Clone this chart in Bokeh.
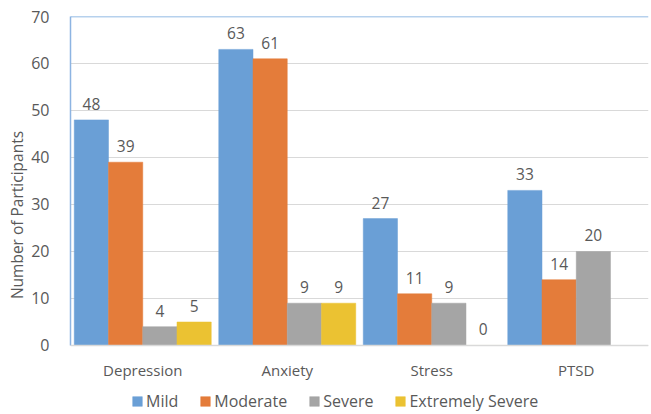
from bokeh.plotting import figure
from bokeh.models import ColumnDataSource, FactorRange, Legend, LegendItem, Span, Range1d, FixedTicker
from bokeh.transform import dodge
from bokeh.embed import file_html
from bokeh.resources import INLINE
from bokeh.core.properties import value

categories = ["Depression", "Anxiety", "Stress", "PTSD"]
series = ["Mild", "Moderate", "Severe", "Extremely Severe"]
mild = [48, 63, 27, 33]
moderate = [39, 61, 11, 14]
severe = [4, 9, 9, 20]
extremely_severe = [5, 9, 0, None]
y_ticks = [0, 10, 20, 30, 40, 50, 60, 70]
y_title = "Number of Participants"

colors = ["#6A9FD6", "#E47C3A", "#A5A5A5", "#EBC232"]
FONT = "Open Sans"
TXT = "#595959"

# frame extends below zero to leave room for category labels and legend
y_low = -14.47
p = figure(width=651, height=413, x_range=FactorRange(*categories),
           y_range=Range1d(y_low, y_ticks[-1]), output_backend="svg",
           toolbar_location=None, min_border_left=70, min_border_top=16,
           min_border_right=3, min_border_bottom=0)
p.outline_line_color = None
p.background_fill_color = "white"
p.border_fill_color = "white"

bw = 0.237
offsets = [-1.5 * bw, -0.5 * bw, 0.5 * bw, 1.5 * bw]
items = []
for name, vals, col, off in zip(series, [mild, moderate, severe, extremely_severe], colors, offsets):
    xs = [c for c, v in zip(categories, vals) if v is not None]
    ys = [v for v in vals if v is not None]
    src = ColumnDataSource(dict(cat=xs, val=ys, lab=[str(v) for v in ys]))
    r = p.vbar(x=dodge("cat", off, range=p.x_range), top="val", bottom=0, width=bw, source=src,
               fill_color=col, line_color=col, line_width=0.5)
    p.text(x=dodge("cat", off, range=p.x_range), y="val", text="lab", source=src,
           text_align="center", text_baseline="bottom", y_offset=-10,
           text_font=value(FONT), text_font_size="15.5px", text_color=TXT)
    items.append(LegendItem(label=name, renderers=[r]))

# category labels under the baseline
cat_src = ColumnDataSource(dict(cat=categories, y=[y_ticks[0]] * len(categories)))
p.text(x="cat", y="y", text="cat", source=cat_src, text_align="center",
       text_baseline="middle", y_offset=25, text_font=value(FONT),
       text_font_size="15px", text_color=TXT)

p.add_layout(Span(location=y_ticks[-1], dimension="width", line_color="#6FA3DC", line_width=1.5))
p.add_layout(Span(location=y_ticks[0], dimension="width", line_color="#D9D9D9", line_width=1.5))

p.xaxis.visible = False

p.yaxis.ticker = FixedTicker(ticks=y_ticks)
p.yaxis.bounds = (y_ticks[0], y_ticks[-1])
p.yaxis.axis_label = y_title
p.yaxis.axis_label_text_font = FONT
p.yaxis.axis_label_text_font_style = "normal"
p.yaxis.axis_label_text_font_size = "15.5px"
p.yaxis.axis_label_text_color = TXT
p.yaxis.axis_label_standoff = 0
p.yaxis.major_label_text_font = FONT
p.yaxis.major_label_text_font_size = "16px"
p.yaxis.major_label_text_color = TXT
p.yaxis.major_label_standoff = 15
p.yaxis.major_tick_line_color = None
p.yaxis.minor_tick_line_color = None
p.yaxis.axis_line_color = "#8DB4E2"
p.yaxis.axis_line_width = 1.5

p.xgrid.grid_line_color = None
p.ygrid.grid_line_color = "#D9D9D9"
p.ygrid.grid_line_width = 1.2

legend = Legend(items=items, orientation="horizontal", location=(61, 1),
                label_text_font=FONT, label_text_font_size="16px", label_text_color=TXT,
                glyph_width=12, glyph_height=12, label_standoff=3, spacing=21,
                padding=0, margin=0, border_line_color=None, label_height=16,
                background_fill_alpha=0)
p.add_layout(legend)

open("out.html", "w").write(file_html(p, INLINE))
